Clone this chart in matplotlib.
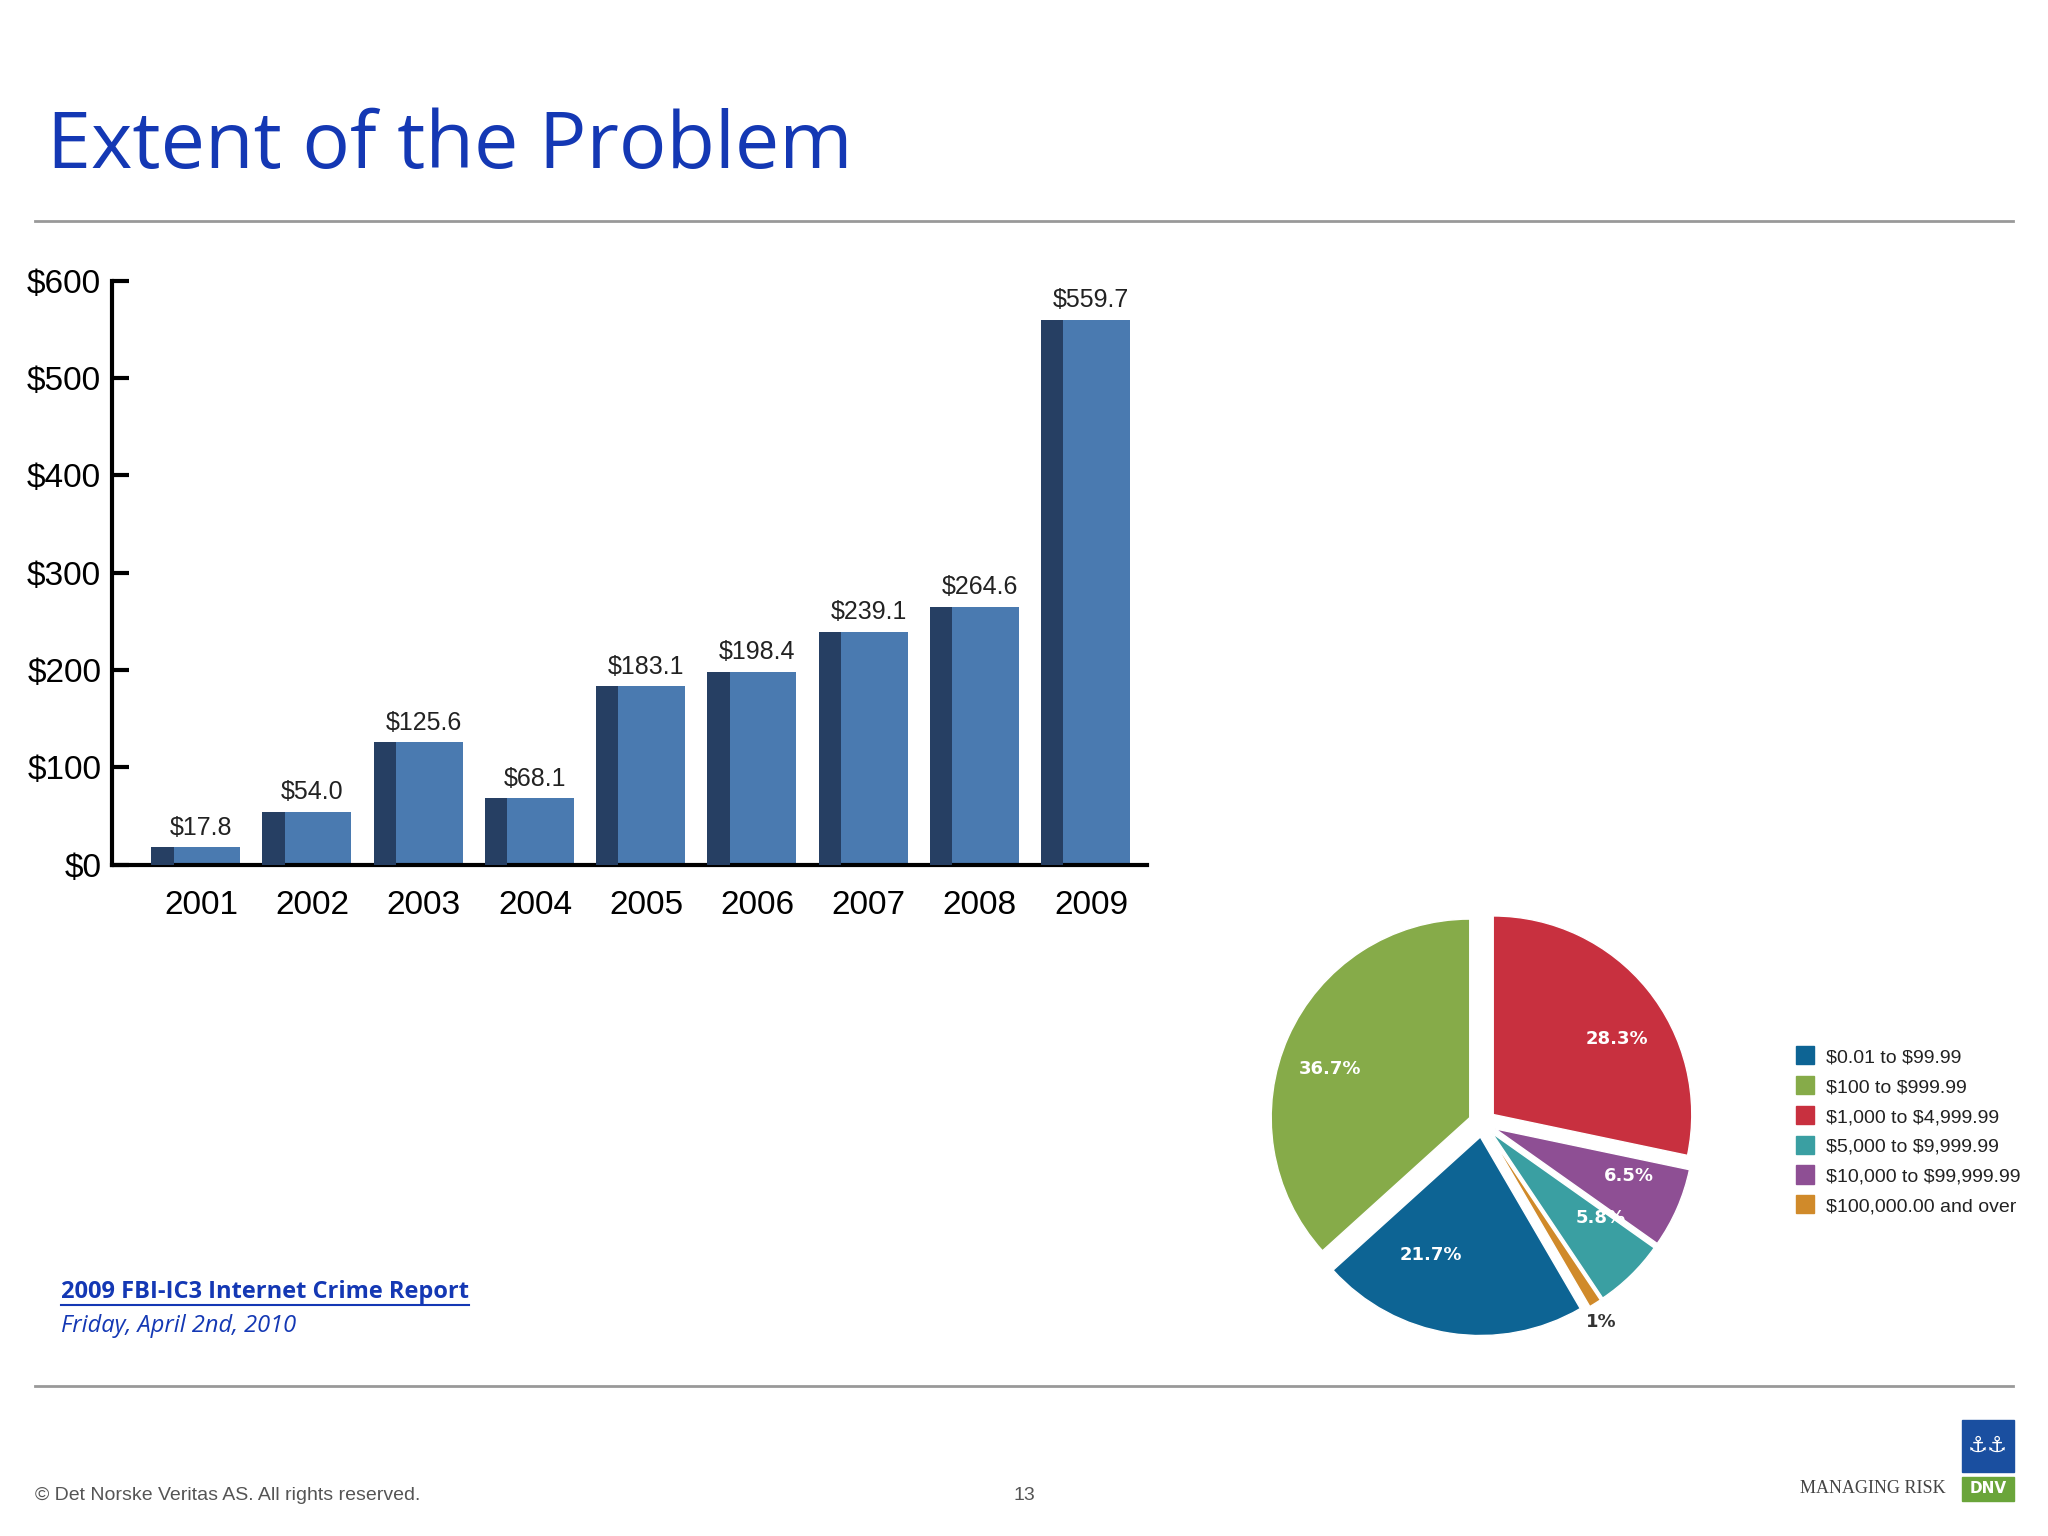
import numpy as np
import matplotlib.pyplot as plt
from matplotlib.patches import Rectangle

plt.rcParams['text.parse_math'] = False

years = ['2001', '2002', '2003', '2004', '2005', '2006', '2007', '2008', '2009']
losses = [17.8, 54.0, 125.6, 68.1, 183.1, 198.4, 239.1, 264.6, 559.7]

pie_labels = ['$1,000 to $4,999.99', '$10,000 to $99,999.99', '$5,000 to $9,999.99',
              '$100,000.00 and over', '$0.01 to $99.99', '$100 to $999.99']
pie_values = [28.3, 6.5, 5.8, 1.0, 21.7, 36.7]
pie_text = ['28.3%', '6.5%', '5.8%', '1%', '21.7%', '36.7%']
pie_colors = ['#c8303f', '#8e4f94', '#3a9fa2', '#d08a2a', '#0d6494', '#86ab49']
legend_order = [4, 5, 0, 2, 1, 3]

W, H = 1568, 1176
fig = plt.figure(figsize=(20.48, 15.36), dpi=100)
NARROW = 'Liberation Sans'


def fx(x):
    return x / W


def fy(y):
    return 1 - y / H


# Title and rules
fig.text(fx(36), fy(113), 'Extent of the Problem', color='#1438b4', fontsize=57,
         va='center', ha='left', family='Open Sans')
for yy in (169, 1061):
    fig.add_artist(plt.Line2D([fx(27), fx(1541)], [fy(yy), fy(yy)], color='#999999', lw=2))

# Bar chart
ax = fig.add_axes([fx(86), fy(662), fx(878 - 86), fy(215) - fy(662)])
x = np.arange(len(years))
ax.bar(x, losses, width=0.8, color='#4a7ab0', zorder=2)
ax.bar(x - 0.3, losses, width=0.2, color='#263f63', zorder=3)
for xi, v in zip(x, losses):
    ax.text(xi + 0.05, v + 8, f'${v:.1f}', ha='center', va='bottom', fontsize=18,
            family=NARROW, color='#222222')
ax.set_xlim(-0.75, len(years) - 0.45)
ax.set_ylim(0, 600)
ax.set_yticks(range(0, 601, 100))
ax.set_yticklabels([f'${v}' for v in range(0, 601, 100)], fontsize=24, family=NARROW)
ax.set_xticks(x + 0.05)
ax.set_xticklabels(years, fontsize=24, family=NARROW)
ax.tick_params(axis='y', length=12, width=3, direction='in', pad=8)
ax.tick_params(axis='x', length=0, pad=18)
for s in ('top', 'right'):
    ax.spines[s].set_visible(False)
ax.spines['left'].set_linewidth(3)
ax.spines['bottom'].set_linewidth(3)

# Pie chart
pax = fig.add_axes([fx(940), fy(1050), fx(390), fy(670) - fy(1050)])
wedges, texts = pax.pie(pie_values, colors=pie_colors, startangle=90, counterclock=False,
                        explode=[0.07] * 6, labels=pie_text, labeldistance=0.6,
                        textprops=dict(color='white', fontsize=13, fontweight='bold'),
                        wedgeprops=dict(edgecolor='white', linewidth=1))
texts[3].set_color('#333333')
texts[3].set_position((0.52, -1.0))
pax.set_aspect('equal')

# Legend
for i, k in enumerate(legend_order):
    yy = 808 + i * 22.8
    fig.add_artist(Rectangle((fx(1375), fy(yy + 7)), fx(14), fy(yy - 7) - fy(yy + 7),
                             color=pie_colors[k], transform=fig.transFigure))
    fig.text(fx(1398), fy(yy + 2), pie_labels[k], fontsize=14, va='center',
             family=NARROW, color='#222222')

# Source
fig.text(fx(47), fy(989), '2009 FBI-IC3 Internet Crime Report', color='#1438b4',
         fontsize=17, fontweight='bold', va='center', family='Open Sans')
fig.add_artist(plt.Line2D([fx(47), fx(359)], [fy(999), fy(999)], color='#1438b4', lw=1.5))
fig.text(fx(47), fy(1015), 'Friday, April 2nd, 2010', color='#1438b4', fontsize=17,
         fontstyle='italic', va='center', family='Open Sans')

# Footer
fig.text(fx(27), fy(1145), '© Det Norske Veritas AS. All rights reserved.', fontsize=14,
         color='#555555', va='center', family='Liberation Sans')
fig.text(fx(784), fy(1145), '13', fontsize=14, color='#555555', va='center', ha='center',
         family='Liberation Sans')
fig.text(fx(1490), fy(1140), 'MANAGING RISK', fontsize=13, color='#444444', va='center',
         ha='right', family='Liberation Serif')
fig.add_artist(Rectangle((fx(1502), fy(1127)), fx(40), fy(1087) - fy(1127),
                         color='#1a4fa0', transform=fig.transFigure))
fig.text(fx(1522), fy(1107), '⚓⚓', fontsize=16, color='white', ha='center', va='center',
         family='DejaVu Sans')
fig.add_artist(Rectangle((fx(1502), fy(1149)), fx(40), fy(1131) - fy(1149),
                         color='#6aa53a', transform=fig.transFigure))
fig.text(fx(1522), fy(1140), 'DNV', fontsize=11, color='white', fontweight='bold',
         ha='center', va='center')

fig.savefig('out.png', facecolor='white')
